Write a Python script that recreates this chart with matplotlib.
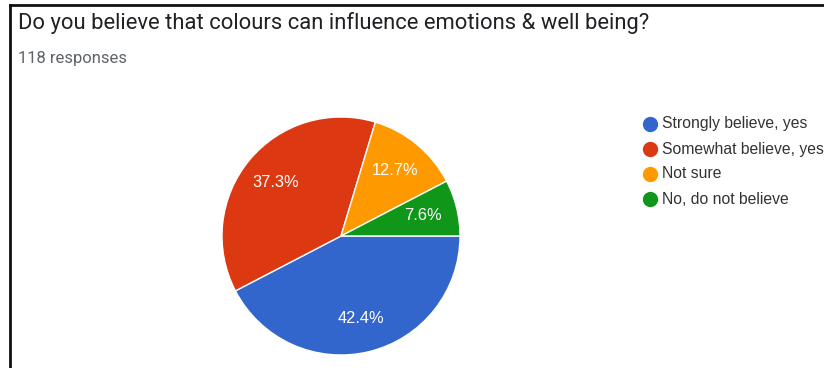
import matplotlib
matplotlib.use("Agg")
import matplotlib.pyplot as plt
from matplotlib.lines import Line2D

plt.rcParams['font.family'] = ['Roboto', 'DejaVu Sans']

title = "Do you believe that colours can influence emotions & well being?"
n_responses = 118
categories = ["Strongly believe, yes", "Somewhat believe, yes", "Not sure", "No, do not believe"]
counts = [50, 44, 15, 9]
colors = ["#3366cc", "#dc3912", "#ff9900", "#109618"]

W, H = 824, 368
fig = plt.figure(figsize=(W / 100, H / 100), dpi=100)
fig.patch.set_facecolor("white")

def px(x, y):
    return x / W, 1 - y / H

# frame around the card
fig.add_artist(Line2D([px(9.5, 0)[0]] * 2, [0, px(0, 4.5)[1]], color="#111111", lw=2.0))
fig.add_artist(Line2D([px(9.5, 0)[0], 1], [px(0, 4.5)[1]] * 2, color="#111111", lw=2.0))

fig.text(*px(18, 23), title, fontsize=15.8, color="#202124", va="center", ha="left")
fig.text(*px(18, 59), f"{n_responses} responses", fontsize=12, color="#5f6368", va="center", ha="left")

# pie
cx, cy, r = 341, 236, 119
ax = fig.add_axes([(cx - r) / W, (H - cy - r) / H, 2 * r / W, 2 * r / H])
wedges, texts, autotexts = ax.pie(
    counts, colors=colors, startangle=0, counterclock=False,
    autopct="%1.1f%%", pctdistance=0.71,
    wedgeprops=dict(edgecolor="white", linewidth=1.0),
    textprops=dict(color="white", fontsize=11.8,
                   family=["Liberation Sans", "DejaVu Sans"]),
)
ax.set_xlim(-1, 1)
ax.set_ylim(-1, 1)
ax.set_aspect("equal")
ax.axis("off")

# legend
lx, ly0, dy = 649.5, 124, 25
for i, (cat, col) in enumerate(zip(categories, colors)):
    y = ly0 + i * dy
    fig.add_artist(Line2D([px(lx, y)[0]], [px(lx, y)[1]], marker="o", markersize=10,
                          color=col, linestyle="none"))
    fig.text(*px(662, y), cat, fontsize=11.3, color="#333333", va="center", ha="left",
             family=["Liberation Sans", "DejaVu Sans"])

fig.savefig("out.png", dpi=100)
